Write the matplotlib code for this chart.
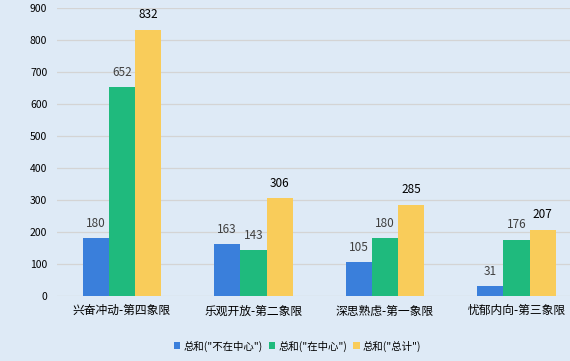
import matplotlib.pyplot as plt
import numpy as np

plt.rcParams['font.family'] = ['Noto Sans CJK SC', 'DejaVu Sans']

categories = ['兴奋冲动-第四象限', '乐观开放-第二象限', '深思熟虑-第一象限', '忧郁内向-第三象限']
not_center = [180, 163, 105, 31]
in_center = [652, 143, 180, 176]
total = [832, 306, 285, 207]
series_names = ['总和("不在中心")', '总和("在中心")', '总和("总计")']
colors = ['#3A7FDB', '#1FBA7D', '#F9CC5A']
bg = '#DEEAF6'

fig = plt.figure(figsize=(5.7, 3.61), dpi=100, facecolor=bg)
ax = fig.add_axes([57/570, (361-296)/361, (570-57)/570, 288/361])
ax.set_facecolor(bg)

x = np.arange(len(categories))
width = 0.2
series = [not_center, in_center, total]
label_colors = ['#404040', '#404040', '#000000']
for i, (vals, c) in enumerate(zip(series, colors)):
    rects = ax.bar(x + (i - 1) * width, vals, width, color=c, label=series_names[i], zorder=3)
    ax.bar_label(rects, padding=6, fontsize=8.5, color=label_colors[i])

ax.set_ylim(0, 900)
ax.set_yticks(range(0, 901, 100))
ax.set_xlim(-0.494, 3.407)
ax.set_xticks(x, categories)
ax.grid(axis='y', color='#D4D4D4', linewidth=0.9, zorder=0)
ax.tick_params(axis='both', length=0, labelsize=7.5, colors='#000000')
ax.tick_params(axis='x', labelsize=8.5, pad=6)
ax.tick_params(axis='y', pad=7)
for s in ax.spines.values():
    s.set_visible(False)

ax.legend(loc='center', bbox_to_anchor=(0.5 - 16/513, -50/288), ncol=3, frameon=False,
          fontsize=7.5, handlelength=0.6, handleheight=0.6, handletextpad=0.3, columnspacing=0.6)

fig.savefig('out.png', dpi=100, facecolor=bg)
